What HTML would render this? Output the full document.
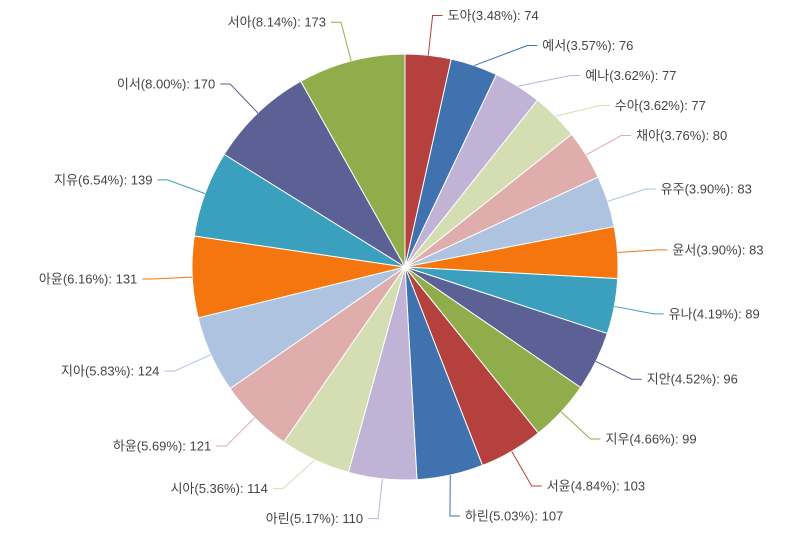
<!DOCTYPE html>
<html><head><meta charset="utf-8"><style>
html,body{margin:0;padding:0;background:#fff;}
svg{display:block;}
text{font-family:"Liberation Sans","Noto Sans CJK KR",sans-serif;font-size:13px;fill:#444;}
</style></head><body>
<svg id="chart" width="800" height="533"></svg>
<script>
const categories=["도아","예서","예나","수아","채아","유주","윤서","유나","지안","지우","서윤","하린","아린","시아","하윤","지아","아윤","지유","이서","서아"];
const values=[74,76,77,77,80,83,83,89,96,99,103,107,110,114,121,124,131,139,170,173];
const colors=["#b5413f","#3f72af","#c0b3d6","#d5deb3","#dfadab","#adc3e0","#f5760e","#3aa0bd","#5b6194","#8fae4b"];
const svg=document.getElementById('chart');
const NS='http://www.w3.org/2000/svg';
const cx=405,cy=267,r=213,R=253,gap=30;
const total=values.reduce((a,b)=>a+b,0);
function pt(rad,a){return [cx+rad*Math.sin(a),cy-rad*Math.cos(a)];}
let cum=0;const labels=[];
values.forEach((v,i)=>{
  const a0=cum/total*2*Math.PI;cum+=v;const a1=cum/total*2*Math.PI;
  const p0=pt(r,a0),p1=pt(r,a1);
  const path=document.createElementNS(NS,'path');
  path.setAttribute('d',`M${cx},${cy}L${p0[0]},${p0[1]}A${r},${r} 0 ${a1-a0>Math.PI?1:0} 1 ${p1[0]},${p1[1]}Z`);
  path.setAttribute('fill',colors[i%colors.length]);
  path.setAttribute('stroke','#fff');path.setAttribute('stroke-width','1');
  
  
  svg.appendChild(path);
  const am=(a0+a1)/2;const e=pt(R,am);
  labels.push({i,am,right:Math.sin(am)>=0,y:e[1]});
});
const rightL=labels.filter(l=>l.right).sort((a,b)=>a.y-b.y);
for(let k=1;k<rightL.length;k++)if(rightL[k].y<rightL[k-1].y+gap)rightL[k].y=rightL[k-1].y+gap;
const leftL=labels.filter(l=>!l.right).sort((a,b)=>b.y-a.y);
for(let k=1;k<leftL.length;k++)if(leftL[k].y>leftL[k-1].y-gap)leftL[k].y=leftL[k-1].y-gap;
labels.forEach(l=>{
  const i=l.i;const s=pt(r,l.am);
  const dy=l.y-cy;const dx=Math.sqrt(Math.max(0,R*R-dy*dy));
  const ex=l.right?cx+dx:cx-dx;const hx=l.right?ex+10:ex-10;
  const line=document.createElementNS(NS,'polyline');
  line.setAttribute('points',`${s[0]},${s[1]} ${ex},${l.y} ${hx},${l.y}`);
  line.setAttribute('fill','none');line.setAttribute('stroke',colors[i%colors.length]);line.setAttribute('stroke-width','1');
  
  
  svg.appendChild(line);
  const t=document.createElementNS(NS,'text');
  t.setAttribute('x',l.right?hx+5:hx-5);t.setAttribute('y',l.y+4.5);
  t.setAttribute('text-anchor',l.right?'start':'end');
  t.textContent=`${categories[i]}(${(values[i]/total*100).toFixed(2)}%): ${values[i]}`;
  
  
  svg.appendChild(t);
});
</script>
</body></html>
